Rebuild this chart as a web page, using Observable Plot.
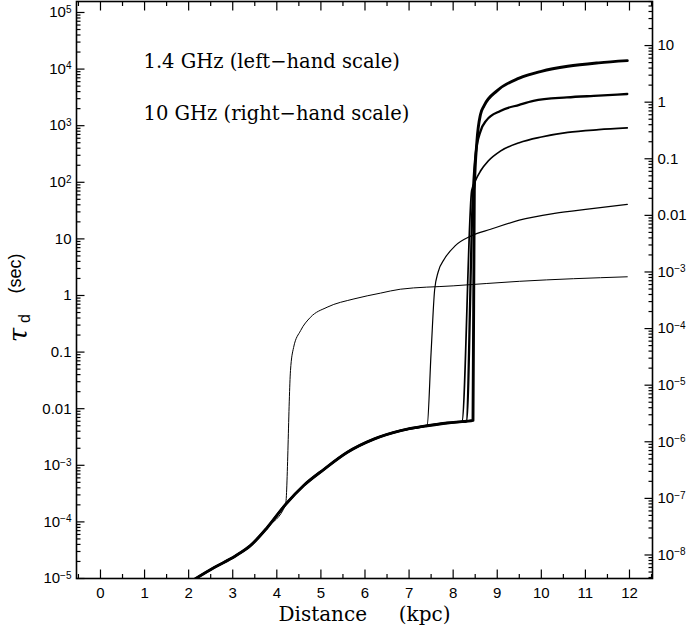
<!DOCTYPE html>
<html><head><meta charset="utf-8">
<script src="https://cdn.jsdelivr.net/npm/d3@7"></script>
<script src="https://cdn.jsdelivr.net/npm/@observablehq/plot@0.6"></script>
<style>
body{margin:0;background:#fff;}
#chart{position:relative;width:687px;height:627px;}
</style></head><body><div id="chart"></div>
<script>
// Shared foreground curve (distance in kpc, tau_d in seconds at 1.4 GHz)
const baseDist = [2.16, 2.57, 3.06, 3.40, 3.78, 4.20, 4.61, 5.07, 5.60, 6.20, 6.81, 7.41, 7.87, 8.20, 8.30, 8.45];
const baseTau  = [1.0e-5, 1.55e-5, 2.5e-5, 3.8e-5, 7.9e-5, 2.04e-4, 4.4e-4, 8.5e-4, 1.7e-3, 2.9e-3, 4.1e-3, 5.0e-3, 5.6e-3, 5.9e-3, 6.0e-3, 6.2e-3];

// Branches after each jump
const curveADist = [4.20, 4.31, 4.38, 4.54, 4.76, 5.14, 5.75, 6.35, 6.80, 8.00, 9.50, 11.95];
const curveATau  = [2.04e-4, 0.047, 0.12, 0.24, 0.41, 0.62, 0.87, 1.1, 1.29, 1.48, 1.78, 2.14];
const curveBDist = [7.41, 7.50, 7.58, 7.66, 7.80, 8.05, 8.40, 8.85, 9.50, 10.30, 11.10, 11.95];
const curveBTau  = [5.0e-3, 0.1, 1.26, 2.6, 4.4, 7.6, 11.2, 14.8, 21.4, 28.2, 33.9, 40.7];
const curveCDist = [8.20, 8.42, 8.50, 8.62, 8.80, 9.07, 9.50, 10.00, 10.60, 11.30, 11.95];
const curveCTau  = [5.9e-3, 70.8, 105, 158, 240, 355, 500, 630, 760, 850, 912];
const curveDDist = [8.30, 8.45, 8.51, 8.62, 8.75, 9.07, 9.50, 9.82, 10.58, 11.30, 11.95];
const curveDTau  = [6.0e-3, 70.8, 316, 794, 1230, 1820, 2340, 2750, 3160, 3390, 3630];
const curveEDist = [8.45, 8.48, 8.54, 8.62, 8.70, 9.00, 9.50, 10.00, 10.60, 11.30, 11.95];
const curveETau  = [6.2e-3, 70.8, 537, 1580, 2240, 4170, 6920, 9120, 11200, 12900, 14100];

// Axis ticks and labels
const xMajorTicks = [0,1,2,3,4,5,6,7,8,9,10,11,12];
const xMinorTicks = [-0.5,0.5,1.5,2.5,3.5,4.5,5.5,6.5,7.5,8.5,9.5,10.5,11.5,12.5];
const leftMajorTicks  = [1e-5,1e-4,1e-3,1e-2,1e-1,1,10,1e2,1e3,1e4,1e5];
const leftTickLabels  = ["10^\u22125","10^\u22124","10^\u22123","0.01","0.1","1","10","10^2","10^3","10^4","10^5"];
const rightMajorTicks = [1e-8,1e-7,1e-6,1e-5,1e-4,1e-3,1e-2,1e-1,1,10];
const rightTickLabels = ["10^\u22128","10^\u22127","10^\u22126","10^\u22125","10^\u22124","10^\u22123","0.01","0.1","1","10"];
const labelLines = ["1.4 GHz (left\u2212hand scale)", "10 GHz (right\u2212hand scale)"];
const xTitle = "Distance\u00a0\u00a0\u00a0\u00a0\u00a0(kpc)";
const yTitleParts = ["\u03c4", "d", "(sec)"];

const xLo = -0.544, xHi = 12.522, yLo = 1e-5;
const yTop = Math.pow(10, 5.194);
const F = Math.pow(10/1.4, 4); // tau scales as nu^-4: 10 GHz value * F = 1.4 GHz value

function minorsOf(majors, lo, hi) {
  const out = [];
  for (const m of majors.concat([majors[0]/10])) for (let k = 2; k <= 9; k++) { const v = m*k; if (v >= lo && v <= hi) out.push(v); }
  return out;
}
const leftMinorTicks = minorsOf(leftMajorTicks, yLo, yTop);
const rightMinorTicks = minorsOf(rightMajorTicks.concat([100]), yLo/F, yTop/F);

function build(dist, tau) {
  const pts = [];
  for (let i = 0; i < baseDist.length; i++) if (baseDist[i] < dist[0]) pts.push({d: baseDist[i], t: baseTau[i]});
  for (let i = 0; i < dist.length; i++) pts.push({d: dist[i], t: tau[i]});
  return pts;
}
const curves = [
  {pts: build(curveADist, curveATau), w: 1.0},
  {pts: build(curveBDist, curveBTau), w: 1.2},
  {pts: build(curveCDist, curveCTau), w: 1.7},
  {pts: build(curveDDist, curveDTau), w: 2.3},
  {pts: build(curveEDist, curveETau), w: 2.9}
];

const W = 687, H = 627, ML = 76, MR = 35, MT = 1, MB = 49;
const FW = W - ML - MR, FH = H - MT - MB;
const sans = "'Liberation Sans', Arial, Helvetica, sans-serif";
const serif = "'DejaVu Serif', serif";

// tick lengths (px) expressed as scale-unit offsets
const pxPerDecade = FH / Math.log10(yTop / yLo);
const pxPerKpc = FW / (xHi - xLo);
const upBy = (v, px) => v * Math.pow(10, px / pxPerDecade);
const ts = {stroke: "black", strokeWidth: 1.2};
const tickMarks = [];
for (const [vals, len] of [[xMajorTicks, 9], [xMinorTicks, 4.5]]) {
  tickMarks.push(Plot.link(vals, {...ts, x1: d => d, x2: d => d, y1: () => yLo, y2: () => upBy(yLo, len)}));
  tickMarks.push(Plot.link(vals, {...ts, x1: d => d, x2: d => d, y1: () => yTop, y2: () => upBy(yTop, -len)}));
}
for (const [vals, len] of [[leftMajorTicks, 8], [leftMinorTicks, 4]]) {
  tickMarks.push(Plot.link(vals, {...ts, x1: () => xLo, x2: () => xLo + len / pxPerKpc, y1: d => d, y2: d => d}));
}
for (const [vals, len] of [[rightMajorTicks, 8], [rightMinorTicks, 4]]) {
  tickMarks.push(Plot.link(vals, {...ts, x1: () => xHi, x2: () => xHi - len / pxPerKpc, y1: d => d*F, y2: d => d*F}));
}

const plot = Plot.plot({
  width: W, height: H,
  marginLeft: ML, marginRight: MR, marginTop: MT, marginBottom: MB,
  x: {domain: [xLo, xHi], axis: null},
  y: {type: "log", domain: [yLo, yTop], axis: null},
  style: {background: "white", color: "black", fontFamily: sans},
  marks: [
    ...curves.map(c => Plot.line(c.pts, {x: "d", y: "t", stroke: "black", strokeWidth: c.w, curve: "monotone-x", clip: true})),
    ...tickMarks,
    Plot.frame({stroke: "black", strokeWidth: 1.6}),
    Plot.text(xMajorTicks, {x: d => d, frameAnchor: "bottom", dy: 15, lineAnchor: "middle", textAnchor: "middle", text: d => String(d), fontSize: 15, fontFamily: sans}),
    Plot.text(leftMajorTicks, {y: d => d, frameAnchor: "left", dx: -5, lineAnchor: "middle", textAnchor: "end", text: (d, i) => leftTickLabels[i], fontSize: 15, fontFamily: sans}),
    Plot.text(rightMajorTicks, {y: d => d*F, frameAnchor: "right", dx: 5, lineAnchor: "middle", textAnchor: "start", text: (d, i) => rightTickLabels[i], fontSize: 15, fontFamily: sans}),
    Plot.text([xTitle], {frameAnchor: "bottom", dy: 36, lineAnchor: "middle", textAnchor: "middle", text: d => d, fontSize: 20, fontFamily: serif}),
    Plot.text([yTitleParts[0]], {frameAnchor: "left", dx: -57.5, dy: 45, rotate: -90, lineAnchor: "middle", textAnchor: "middle", text: d => d, fontSize: 26, fontStyle: "italic", fontFamily: serif}),
    Plot.text([yTitleParts[1]], {frameAnchor: "left", dx: -52, dy: 28.5, rotate: -90, lineAnchor: "middle", textAnchor: "middle", text: d => d, fontSize: 16, fontFamily: sans}),
    Plot.text([yTitleParts[2]], {frameAnchor: "left", dx: -61, dy: -16.5, rotate: -90, lineAnchor: "middle", textAnchor: "middle", text: d => d, fontSize: 18, fontFamily: sans}),
    Plot.text([labelLines[0]], {frameAnchor: "top-left", dx: 67, dy: 60, lineAnchor: "middle", textAnchor: "start", text: d => d, fontSize: 19.5, fontFamily: serif}),
    Plot.text([labelLines[1]], {frameAnchor: "top-left", dx: 67, dy: 112, lineAnchor: "middle", textAnchor: "start", text: d => d, fontSize: 19.5, fontFamily: serif})
  ]
});

const NS = "http://www.w3.org/2000/svg";
plot.querySelectorAll("text").forEach(t => {
  const m = /^10\^(.+)$/.exec(t.textContent);
  if (m) {
    t.textContent = "10";
    const sup = document.createElementNS(NS, "tspan");
    sup.setAttribute("dy", "-0.45em");
    sup.setAttribute("font-size", "10");
    sup.textContent = m[1];
    t.appendChild(sup);
  }
});
document.getElementById("chart").appendChild(plot);
</script></body></html>
